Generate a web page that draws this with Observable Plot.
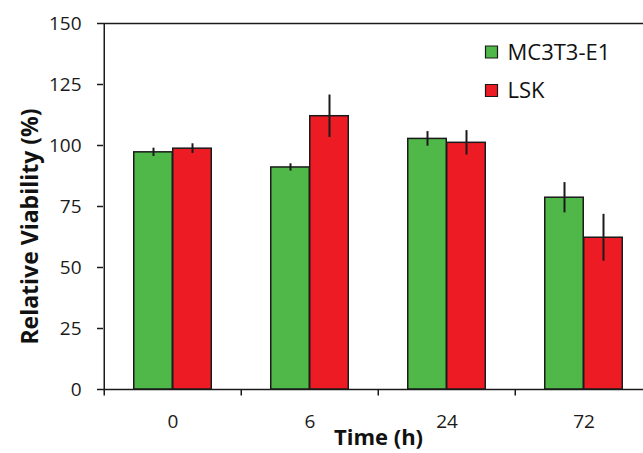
<!DOCTYPE html>
<html>
<head>
<meta charset="utf-8">
<script src="https://cdn.jsdelivr.net/npm/d3@7"></script>
<script src="https://cdn.jsdelivr.net/npm/@observablehq/plot@0.6"></script>
<style>
  html, body { margin: 0; padding: 0; background: #fff; }
  #wrap { width: 643px; height: 453px; overflow: hidden; position: relative; }
  #wrap svg { max-width: none !important; }
</style>
</head>
<body>
<div id="wrap"></div>
<script>
const times = ["0", "6", "24", "72"];
const series = ["MC3T3-E1", "LSK"];
const mc3t3 = [97.2, 91.0, 102.7, 78.6];
const mc3t3Err = [1.7, 1.5, 3.0, 6.2];
const lsk = [98.7, 112.0, 101.1, 62.2];
const lskErr = [2.0, 8.7, 5.0, 9.6];
const yTicks = [0, 25, 50, 75, 100, 125, 150];
const colors = ["#50b848", "#ed1c24"];

const rowsA = times.map((t, i) => ({time: t, series: series[0], value: mc3t3[i], err: mc3t3Err[i]}));
const rowsB = times.map((t, i) => ({time: t, series: series[1], value: lsk[i], err: lskErr[i]}));

const bw = 137.5;       // band step in px
const barW = 39;        // single bar width in px
const half = bw / 2;
const axisColor = "#1a1a1a";

const chart = Plot.plot({
  width: 660,
  height: 453,
  marginLeft: 103,
  marginRight: 7,
  marginTop: 23,
  marginBottom: 64,
  style: {fontFamily: "'Open Sans', sans-serif", fontSize: "19px", color: "#1a1a1a", background: "#fff", maxWidth: "none"},
  x: {domain: times, padding: 0, axis: null},
  y: {domain: [0, 150], axis: null},
  color: {domain: series, range: colors},
  marks: [
    Plot.ruleY([150], {stroke: axisColor, strokeWidth: 1.5}),
    Plot.ruleY([0], {stroke: axisColor, strokeWidth: 1.5}),
    Plot.ruleX([times[0]], {dx: -half, y1: 0, y2: 150, stroke: axisColor, strokeWidth: 1.5}),
    Plot.ruleX(times, {x: d => d, dx: -half, y1: -2.7, y2: 0, stroke: axisColor, strokeWidth: 1.5}),
    Plot.axisY({ticks: yTicks, tickSize: 6, tickPadding: 16, fontSize: 19, label: null, stroke: axisColor, strokeWidth: 1.5, fill: "#1a1a1a"}),
    Plot.axisX({tickSize: 0, tickPadding: 25, fontSize: 19, label: null, fill: "#1a1a1a"}),
    Plot.barY(rowsA, {x: "time", y: "value", fill: "series", stroke: axisColor, strokeWidth: 1.5,
      insetLeft: half - barW, insetRight: half}),
    Plot.barY(rowsB, {x: "time", y: "value", fill: "series", stroke: axisColor, strokeWidth: 1.5,
      insetLeft: half, insetRight: half - barW}),
    Plot.ruleX(rowsA, {x: "time", y1: d => d.value - d.err, y2: d => d.value + d.err, dx: -barW / 2, stroke: axisColor, strokeWidth: 2}),
    Plot.ruleX(rowsB, {x: "time", y1: d => d.value - d.err, y2: d => d.value + d.err, dx: barW / 2, stroke: axisColor, strokeWidth: 2}),
    Plot.text(["Relative Viability (%)"], {frameAnchor: "left", textAnchor: "middle", lineAnchor: "middle", dx: -73, dy: 20, rotate: -90, fontSize: 23, fontWeight: "bold", fill: "#111"}),
    Plot.text(["Time (h)"], {frameAnchor: "bottom", textAnchor: "middle", lineAnchor: "bottom", dy: 55, fontSize: 22, fontWeight: "bold", fill: "#111"}),
    ...series.map((s, i) => Plot.dot([s], {frameAnchor: "top-left", dx: 388, dy: 28.5 + i * 38.5, symbol: "square", r: 6.77, fill: colors[i], stroke: axisColor, strokeWidth: 1.2})),
    ...series.map((s, i) => Plot.text([s], {frameAnchor: "top-left", dx: 404, dy: 29 + i * 38.5, textAnchor: "start", lineAnchor: "middle", fontSize: 22, fill: "#111"}))
  ]
});
document.getElementById("wrap").appendChild(chart);
</script>
</body>
</html>
